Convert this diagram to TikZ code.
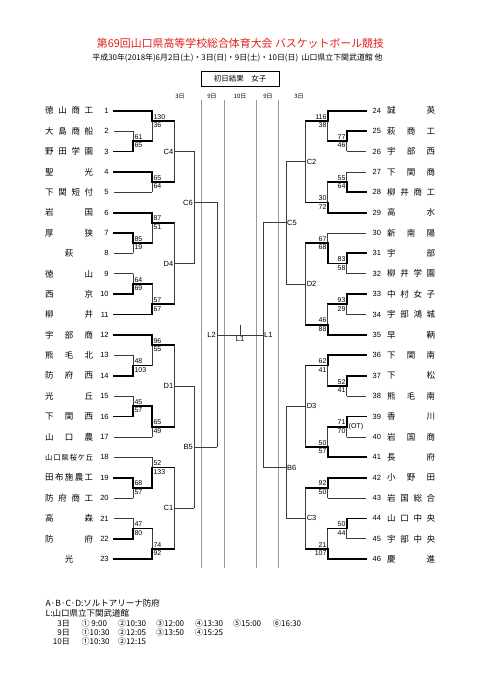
\documentclass[tikz,border=0pt]{standalone}
\usepackage{fontspec}
\setmainfont{Liberation Sans}
\newfontfamily\jp{Noto Sans CJK JP}
\usetikzlibrary{positioning}
\definecolor{titlered}{RGB}{225,30,30}
\definecolor{thingray}{RGB}{60,60,60}
\tikzset{
    win/.style={draw=black, line width=1.8pt, line cap=rect},
    lose/.style={draw=thingray, line width=0.7pt},
    dayline/.style={draw=black!40, line width=0.7pt},
    score/.style={font=\fontsize{7}{8}\selectfont, inner xsep=1pt, inner ysep=1.6pt},
    rnd/.style={font=\fontsize{7.5}{8}\selectfont, inner sep=1pt},
    team/.style={font=\jp\fontsize{8.5}{9}\selectfont, inner sep=0pt, anchor=west},
    num/.style={font=\fontsize{7.5}{8}\selectfont, inner sep=0pt},
    dayhd/.style={font=\jp\fontsize{6}{7}\selectfont, inner sep=0pt},
    foot/.style={font=\jp\fontsize{8.5}{9}\selectfont, inner sep=0pt, anchor=west},
    declare function={ry(\r)=110.7+(\r-1)*20.385;}
}

\begin{document}
\begin{tikzpicture}[x=1pt, y=-1pt]
    \useasboundingbox (0,0) rectangle (481,680);

    % Heading
    \node[font=\jp\fontsize{10.9}{12}\selectfont, text=titlered, inner sep=0pt] (title) at (240.5,43) {第69回山口県高等学校総合体育大会 バスケットボール競技};
    \node[font=\jp\fontsize{7.9}{9}\selectfont, inner sep=0pt] (sub) at (237.5,57.5) {平成30年(2018年)6月2日(土)・3日(日)・9日(土)・10日(日)\ \ 山口県立下関武道館 他};
    \node[draw, line width=0.9pt, minimum width=78pt, minimum height=15pt, inner sep=0pt, font=\jp\fontsize{7.5}{8}\selectfont] (res) at (240,78.5) {初日結果\quad 女子};

    % Days
    \foreach \x/\d [count=\i] in {180/3,212/9,240/10,268/9,299/3}
        \node[dayhd] (day\i) at (\x,96.5) {\d 日};
    \foreach \x in {201.7,224,256,278.3}
        \draw[dayline] (\x,100) -- (\x,568);

    % Left teams
    \foreach \n/\nm in {1/{徳\hfill 山\hfill 商\hfill 工}, 2/{大\hfill 島\hfill 商\hfill 船}, 3/{野\hfill 田\hfill 学\hfill 園},
        4/{聖\hfill 光}, 5/{下\hfill 関\hfill 短\hfill 付}, 6/{岩\hfill 国}, 7/{厚\hfill 狭}, 8/{\hfill 萩\hfill},
        9/{徳\hfill 山}, 10/{西\hfill 京}, 11/{柳\hfill 井}, 12/{宇\hfill 部\hfill 商}, 13/{熊\hfill 毛\hfill 北},
        14/{防\hfill 府\hfill 西}, 15/{光\hfill 丘}, 16/{下\hfill 関\hfill 西}, 17/{山\hfill 口\hfill 農},
        18/{\fontsize{7.5}{8}\selectfont 山\hfill 口\hfill 県\hfill 桜\hfill ケ\hfill 丘}, 19/{田\hfill 布\hfill 施\hfill 農\hfill 工},
        20/{防\hfill 府\hfill 商\hfill 工}, 21/{高\hfill 森}, 22/{防\hfill 府}, 23/{\hfill 光\hfill}}
    {
        \node[team] (t\n) at (45,{ry(\n)}) {\makebox[48pt][s]{\nm}};
        \node[num, anchor=east] (n\n) at (108.8,{ry(\n)}) {\n};
    }

    % Right teams
    \foreach \n/\nm [count=\r] in {24/{誠\hfill 英}, 25/{萩\hfill 商\hfill 工}, 26/{宇\hfill 部\hfill 西}, 27/{下\hfill 関\hfill 商},
        28/{柳\hfill 井\hfill 商\hfill 工}, 29/{高\hfill 水}, 30/{新\hfill 南\hfill 陽}, 31/{宇\hfill 部},
        32/{柳\hfill 井\hfill 学\hfill 園}, 33/{中\hfill 村\hfill 女\hfill 子}, 34/{宇\hfill 部\hfill 鴻\hfill 城}, 35/{早\hfill 鞆},
        36/{下\hfill 関\hfill 南}, 37/{下\hfill 松}, 38/{熊\hfill 毛\hfill 南}, 39/{香\hfill 川}, 40/{岩\hfill 国\hfill 商},
        41/{長\hfill 府}, 42/{小\hfill 野\hfill 田}, 43/{岩\hfill 国\hfill 総\hfill 合}, 44/{山\hfill 口\hfill 中\hfill 央},
        45/{宇\hfill 部\hfill 中\hfill 央}, 46/{慶\hfill 進}}
    {
        \node[team] (t\n) at (387,{ry(\r)}) {\makebox[48pt][s]{\nm}};
        \node[num, anchor=west] (n\n) at (372.5,{ry(\r)}) {\n};
    }

    % Team lines
    \foreach \r/\x/\s in {1/152.3/win, 2/133.3/lose, 3/133.3/win, 4/152.3/win, 5/152.3/lose, 6/152.3/win,
        7/133.3/win, 8/133.3/lose, 9/133.3/lose, 10/133.3/win, 11/152.3/win, 12/152.3/win, 13/133.3/lose,
        14/133.3/win, 15/133.3/lose, 16/133.3/win, 17/152.3/lose, 18/152.3/lose, 19/133.3/win, 20/133.3/lose,
        21/133.3/lose, 22/133.3/win, 23/152.3/win}
        \draw[\s] (114,{ry(\r)}) -- (\x,{ry(\r)});
    \foreach \r/\x/\s in {1/327.7/win, 2/346.7/win, 3/346.7/lose, 4/346.7/lose, 5/346.7/win, 6/327.7/win,
        7/327.7/lose, 8/346.7/win, 9/346.7/lose, 10/346.7/win, 11/346.7/lose, 12/327.7/win, 13/327.7/win,
        14/346.7/win, 15/346.7/lose, 16/346.7/win, 17/346.7/lose, 18/327.7/win, 19/327.7/win, 20/327.7/lose,
        21/346.7/win, 22/346.7/lose, 23/327.7/win}
        \draw[\s] (366,{ry(\r)}) -- (\x,{ry(\r)});

    % Played games, left
    \foreach \vx/\rt/\rb/\ro/\nx/\wt/\wb/\st/\sb [count=\i] in {
        133.3/2/3/2.5/152.3/lose/win/61/65, 152.3/1/2.5/1.5/174.4/win/lose/130/36,
        152.3/4/5/4.5/174.4/win/lose/65/64, 133.3/7/8/7.5/152.3/win/lose/85/19,
        152.3/6/7.5/6.5/174.4/win/lose/87/51, 133.3/9/10/9.5/152.3/lose/win/64/69,
        152.3/9.5/11/10.5/174.4/lose/win/57/67, 133.3/13/14/13.5/152.3/lose/win/48/103,
        152.3/12/13.5/12.5/174.4/win/lose/96/55, 133.3/15/16/15.5/152.3/lose/win/45/57,
        152.3/15.5/17/16.5/174.4/win/lose/65/49, 133.3/19/20/19.5/152.3/win/lose/68/57,
        152.3/18/19.5/18.5/174.4/lose/win/52/133, 133.3/21/22/21.5/152.3/lose/win/47/80,
        152.3/21.5/23/22.5/174.4/lose/win/74/92}
    {
        \draw[\wt] (\vx,{ry(\rt)}) -- (\vx,{ry(\ro)});
        \draw[\wb] (\vx,{ry(\rb)}) -- (\vx,{ry(\ro)});
        \draw[win] (\vx,{ry(\ro)}) -- (\nx,{ry(\ro)});
        \node[score, anchor=south west] (la\i) at (\vx,{ry(\ro)}) {\st};
        \node[score, anchor=north west] (lb\i) at (\vx,{ry(\ro)}) {\sb};
    }

    % Played games, right
    \foreach \vx/\rt/\rb/\ro/\nx/\wt/\wb/\st/\sb [count=\i] in {
        346.7/2/3/2.5/327.7/win/lose/77/46, 327.7/1/2.5/1.5/305.6/win/lose/116/38,
        346.7/4/5/4.5/327.7/lose/win/55/64, 327.7/4.5/6/5.5/305.6/lose/win/30/72,
        346.7/8/9/8.5/327.7/win/lose/83/58, 327.7/7/8.5/7.5/305.6/lose/win/67/68,
        346.7/10/11/10.5/327.7/win/lose/93/29, 327.7/10.5/12/11.5/305.6/lose/win/46/88,
        346.7/14/15/14.5/327.7/win/lose/52/41, 327.7/13/14.5/13.5/305.6/win/lose/62/41,
        346.7/16/17/16.5/327.7/win/lose/71/70, 327.7/16.5/18/17.5/305.6/lose/win/50/57,
        327.7/19/20/19.5/305.6/win/lose/92/50, 346.7/21/22/21.5/327.7/win/lose/50/44,
        327.7/21.5/23/22.5/305.6/lose/win/21/107}
    {
        \draw[\wt] (\vx,{ry(\rt)}) -- (\vx,{ry(\ro)});
        \draw[\wb] (\vx,{ry(\rb)}) -- (\vx,{ry(\ro)});
        \draw[win] (\vx,{ry(\ro)}) -- (\nx,{ry(\ro)});
        \node[score, anchor=south east] (ra\i) at (\vx,{ry(\ro)}) {\st};
        \node[score, anchor=north east] (rb\i) at (\vx,{ry(\ro)}) {\sb};
    }
    \node[score, anchor=west] (ot) at (347.5,{ry(16.5)}) {(OT)};

    % Games still to play
    \foreach \vx/\rt/\rb/\ro/\nx/\lab in {174.4/1.5/4.5/3/194/C4, 174.4/6.5/10.5/8.5/194/D4,
        174.4/12.5/16.5/14.5/194/D1, 174.4/18.5/22.5/20.5/194/C1, 194/3/8.5/5.5/217/C6,
        194/14.5/20.5/17.5/217/B5, 217/5.5/17.5/12/240/L2}
    {
        \draw[lose] (\vx,{ry(\rt)}) -- (\vx,{ry(\rb)});
        \draw[lose] (\vx,{ry(\ro)}) -- (\nx,{ry(\ro)});
        \node[rnd, anchor=east] (g\lab) at (\vx,{ry(\ro)}) {\lab};
    }
    \foreach \vx/\rt/\rb/\ro/\nx/\lab in {305.6/1.5/5.5/3.5/286/C2, 305.6/7.5/11.5/9.5/286/D2,
        305.6/13.5/17.5/15.5/286/D3, 305.6/19.5/22.5/21/286/C3, 286/3.5/9.5/6.5/263/C5,
        286/15.5/21/18.5/263/B6, 263/6.5/18.5/12/240/L1}
    {
        \draw[lose] (\vx,{ry(\rt)}) -- (\vx,{ry(\rb)});
        \draw[lose] (\vx,{ry(\ro)}) -- (\nx,{ry(\ro)});
        \node[rnd, anchor=west] (g\lab) at (\vx,{ry(\ro)}) {\lab};
    }

    % Final
    \coordinate (fin) at (240,{ry(12)});
    \draw[lose] (fin) -- ++(0,-9.5);
    \node[rnd, below=0.5pt of fin] (gfin) {L1};

    % Venues and times
    \node[foot] (venA) at (45.5,603.3) {A·B·C·D:ソルトアリーナ防府};
    \node[foot] (venL) at (45.5,613.3) {L:山口県立下関武道館};
    \foreach \y/\d [count=\i] in {623.3/3, 632.3/9, 641.7/10}
        \node[foot, anchor=east, font=\jp\fontsize{8}{9}\selectfont] (dd\i) at (70,\y) {\d 日};
    \foreach \x/\y/\t [count=\i] in {81.5/623.3/{①\ 9:00}, 118/623.3/{②10:30}, 156/623.3/{③12:00},
        195/623.3/{④13:30}, 233/623.3/{⑤15:00}, 273/623.3/{⑥16:30},
        81.5/632.3/{①10:30}, 118/632.3/{②12:05}, 156/632.3/{③13:50}, 195/632.3/{④15:25},
        81.5/641.7/{①10:30}, 118/641.7/{②12:15}}
        \node[foot, font=\jp\fontsize{8}{9}\selectfont] (tm\i) at (\x,\y) {\t};
\end{tikzpicture}
\end{document}
